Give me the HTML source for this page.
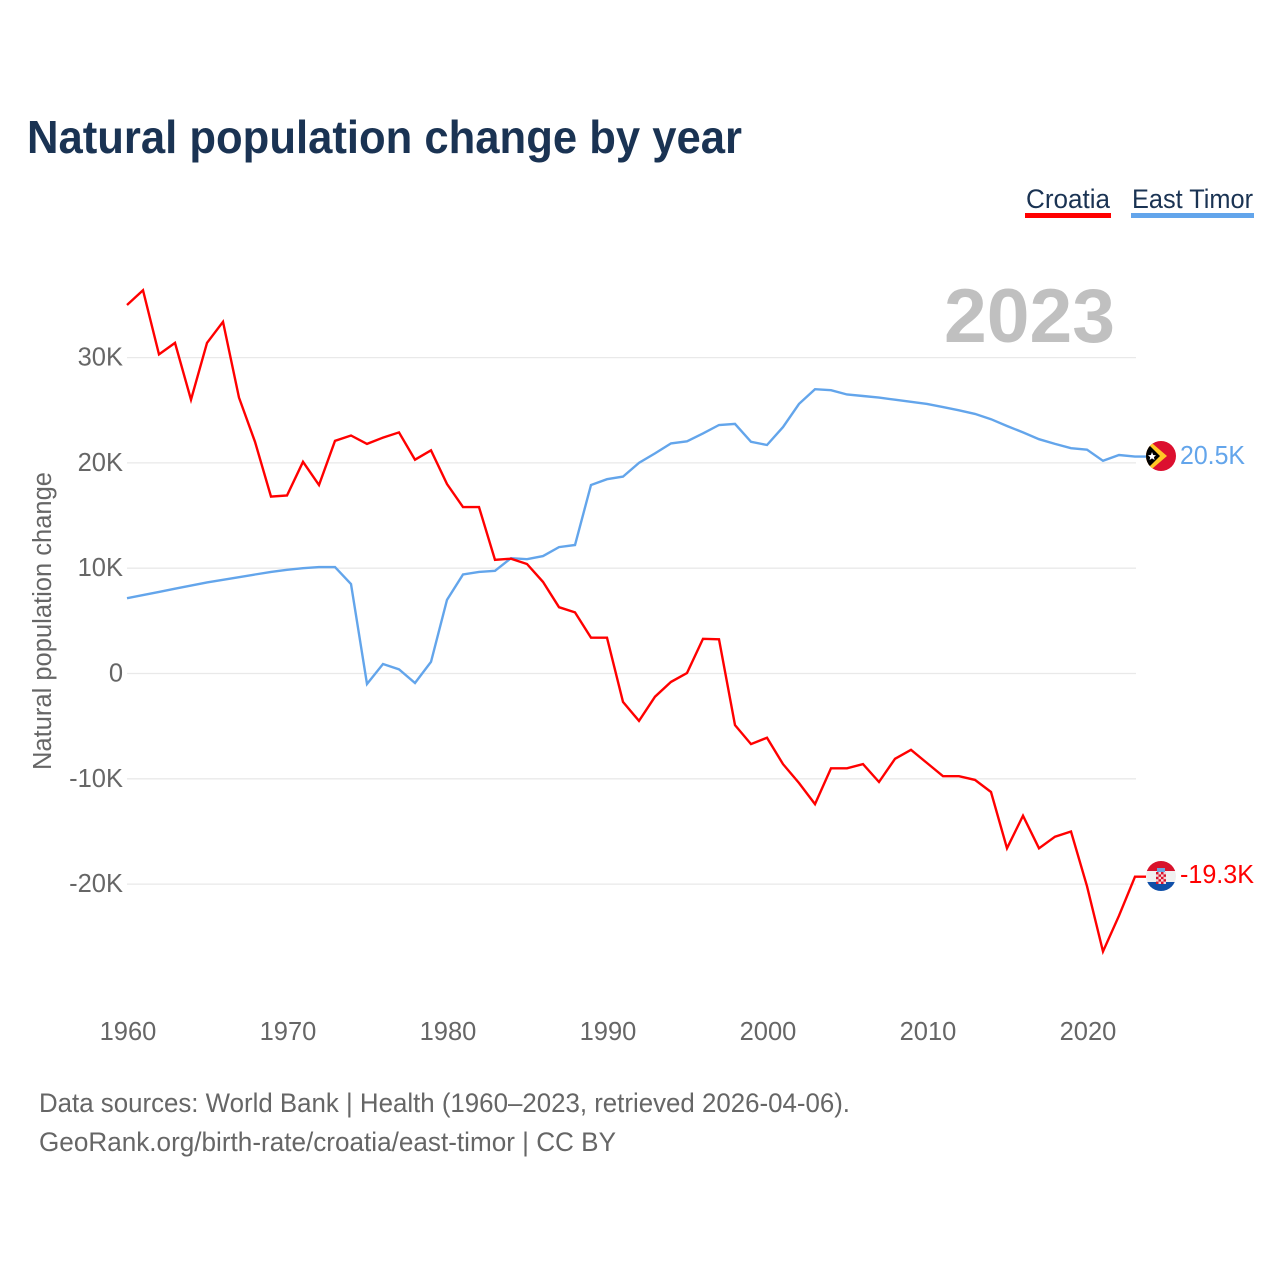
<!DOCTYPE html>
<html lang="en">
<head>
<meta charset="utf-8">
<title>Natural population change by year</title>
<style>
html,body{margin:0;padding:0;background:#fff;width:1280px;height:1280px;overflow:hidden}
svg{display:block;font-family:"Liberation Sans",sans-serif}
</style>
</head>
<body>
<svg id="chart" xmlns="http://www.w3.org/2000/svg" width="1280" height="1280" viewBox="0 0 1280 1280">
  <rect width="1280" height="1280" fill="#fff"/>
  <defs>
    <clipPath id="clip-tl"><circle cx="1161" cy="456" r="15"/></clipPath>
    <clipPath id="clip-hr"><circle cx="1161" cy="876" r="15"/></clipPath>
  </defs>
  <text x="27" y="153" font-size="46" font-weight="700" fill="#1a3353" textLength="715" lengthAdjust="spacingAndGlyphs">Natural population change by year</text>
  <g>
    <text x="1026" y="208" font-size="27" fill="#1a3353" textLength="84" lengthAdjust="spacingAndGlyphs">Croatia</text>
    <rect x="1025" y="213" width="86" height="5" fill="#ff0000"/>
    <text x="1132" y="208" font-size="27" fill="#1a3353" textLength="121" lengthAdjust="spacingAndGlyphs">East Timor</text>
    <rect x="1131" y="213" width="123" height="5" fill="#63a5eb"/>
  </g>
  <text x="944" y="342" font-size="76" font-weight="700" fill="#c0c0c0" textLength="171" lengthAdjust="spacingAndGlyphs">2023</text>
  <g id="grid"></g>
  <g id="yticks"></g>
  <g id="xticks"></g>
  <text transform="translate(51,770) rotate(-90)" font-size="25.5" fill="#666" textLength="298" lengthAdjust="spacingAndGlyphs">Natural population change</text>
  <g id="lines"></g>
  <g id="flags">
    <g clip-path="url(#clip-tl)">
      <rect x="1146" y="441" width="30" height="30" fill="#dc0f2f"/>
      <polygon points="1146,438 1167,456 1146,474" fill="#ffc726"/>
      <polygon points="1146,442 1160,456 1146,470" fill="#000"/>
      <polygon points="1152,452 1153.2,455 1156,455.2 1153.9,457.1 1154.6,460 1152,458.4 1149.6,460 1150.2,457.1 1148,455.2 1150.9,455" fill="#fff"/>
    </g>
    <g clip-path="url(#clip-hr)">
      <rect x="1146" y="861" width="30" height="10" fill="#d8132c"/>
      <rect x="1146" y="871" width="30" height="11" fill="#f0f0f0"/>
      <rect x="1146" y="882" width="30" height="9" fill="#0f4fa8"/>
      <rect x="1157" y="868" width="8" height="4" fill="#6ba6e0"/>
      <rect x="1156" y="872" width="10" height="12" fill="#f3d6d8"/>
      <g fill="#d8132c">
        <rect x="1156" y="872" width="2.5" height="2.4"/><rect x="1161" y="872" width="2.5" height="2.4"/>
        <rect x="1158.5" y="874.4" width="2.5" height="2.4"/><rect x="1163.5" y="874.4" width="2.5" height="2.4"/>
        <rect x="1156" y="876.8" width="2.5" height="2.4"/><rect x="1161" y="876.8" width="2.5" height="2.4"/>
        <rect x="1158.5" y="879.2" width="2.5" height="2.4"/><rect x="1163.5" y="879.2" width="2.5" height="2.4"/>
        <rect x="1156" y="881.6" width="2.5" height="2.4"/><rect x="1161" y="881.6" width="2.5" height="2.4"/>
      </g>
    </g>
  </g>
  <text id="label-tl" x="1180" y="464" font-size="25.5" fill="#63a5eb" textLength="65" lengthAdjust="spacingAndGlyphs"></text>
  <text id="label-hr" x="1180" y="883" font-size="25.5" fill="#ff0000" textLength="74" lengthAdjust="spacingAndGlyphs"></text>
  <g>
    <text x="39" y="1112" font-size="27" fill="#666" textLength="811" lengthAdjust="spacingAndGlyphs">Data sources: World Bank | Health (1960–2023, retrieved 2026-04-06).</text>
    <text x="39" y="1151" font-size="27" fill="#666" textLength="577" lengthAdjust="spacingAndGlyphs">GeoRank.org/birth-rate/croatia/east-timor | CC BY</text>
  </g>
</svg>
<script>
const startYear = 1960;
const croatiaValues = [35.0,36.4,30.3,31.4,26.0,31.4,33.4,26.2,22.0,16.8,16.9,20.1,17.9,22.1,22.6,21.8,22.4,22.9,20.3,21.2,18.0,15.8,15.8,10.8,10.9,10.4,8.7,6.3,5.8,3.4,3.4,-2.7,-4.5,-2.2,-0.8,0.05,3.3,3.25,-4.9,-6.7,-6.1,-8.6,-10.4,-12.4,-9.0,-9.0,-8.6,-10.3,-8.1,-7.25,-8.5,-9.75,-9.75,-10.1,-11.25,-16.6,-13.5,-16.6,-15.5,-15.0,-20.2,-26.4,-23.0,-19.3];
const eastTimorValues = [7.15,7.45,7.75,8.05,8.35,8.65,8.9,9.15,9.4,9.65,9.85,10.0,10.1,10.1,8.5,-1.0,0.9,0.4,-0.9,1.1,7.0,9.4,9.65,9.75,10.95,10.85,11.15,12.0,12.2,17.9,18.45,18.7,20.0,20.9,21.85,22.05,22.8,23.6,23.7,22.0,21.7,23.4,25.6,27.0,26.9,26.5,26.35,26.2,26.0,25.8,25.6,25.3,25.0,24.65,24.15,23.5,22.9,22.25,21.8,21.4,21.25,20.2,20.75,20.6];
const yTickValues = [30, 20, 10, 0, -10, -20];
const yTickLabels = ["30K", "20K", "10K", "0", "-10K", "-20K"];
const xTickYears = [1960, 1970, 1980, 1990, 2000, 2010, 2020];
const endLabelTimor = "20.5K";
const endLabelCroatia = "-19.3K";

const NS = "http://www.w3.org/2000/svg";
function xScale(year) { return 127 + (year - 1960) * 16; }
function yScale(v) { return 673.5 - v * 10.53; }

const grid = document.getElementById("grid");
const yticks = document.getElementById("yticks");
const xticks = document.getElementById("xticks");
const lines = document.getElementById("lines");

yTickValues.forEach(function (v, i) {
  const ln = document.createElementNS(NS, "line");
  
  
  ln.setAttribute("x1", 127);
  ln.setAttribute("x2", 1136);
  ln.setAttribute("y1", yScale(v));
  ln.setAttribute("y2", yScale(v));
  ln.setAttribute("stroke", "#e9e9e9");
  ln.setAttribute("stroke-width", "1.3");
  grid.appendChild(ln);
  const t = document.createElementNS(NS, "text");
  
  
  t.setAttribute("x", 123);
  t.setAttribute("y", yScale(v) + 8);
  t.setAttribute("text-anchor", "end");
  t.setAttribute("font-size", "25.5");
  t.setAttribute("fill", "#666");
  t.textContent = yTickLabels[i];
  yticks.appendChild(t);
});

xTickYears.forEach(function (yr) {
  const t = document.createElementNS(NS, "text");
  
  
  t.setAttribute("x", xScale(yr) + 1);
  t.setAttribute("y", 1040);
  t.setAttribute("text-anchor", "middle");
  t.setAttribute("font-size", "25.5");
  t.setAttribute("fill", "#666");
  t.textContent = String(yr);
  xticks.appendChild(t);
});

function drawSeries(values, color, name) {
  const pts = values.map(function (v, i) {
    return xScale(startYear + i).toFixed(1) + "," + yScale(v).toFixed(1);
  });
  const lastY = yScale(values[values.length - 1]).toFixed(1);
  pts.push("1146," + lastY);
  const p = document.createElementNS(NS, "polyline");
  
  
  p.setAttribute("points", pts.join(" "));
  p.setAttribute("fill", "none");
  p.setAttribute("stroke", color);
  p.setAttribute("stroke-width", "2.4");
  p.setAttribute("stroke-linejoin", "miter");
  lines.appendChild(p);
}
drawSeries(eastTimorValues, "#63a5eb", "east-timor-line");
drawSeries(croatiaValues, "#ff0000", "croatia-line");

document.getElementById("label-tl").textContent = endLabelTimor;
document.getElementById("label-hr").textContent = endLabelCroatia;
</script>
</body>
</html>
